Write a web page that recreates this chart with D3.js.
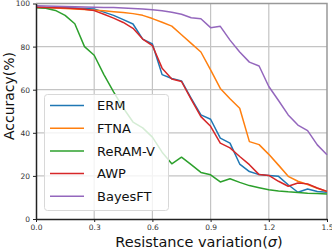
<!DOCTYPE html>
<html>
<head>
<meta charset="utf-8">
<script src="https://cdn.jsdelivr.net/npm/d3@7/dist/d3.min.js"></script>
<style>
  html, body { margin: 0; padding: 0; background: #fff; }
  svg { display: block; font-family: "DejaVu Sans", sans-serif; }
</style>
</head>
<body>
<div id="chart"></div>
<script>
var sigma = [0, 0.05, 0.1, 0.15, 0.2, 0.25, 0.3, 0.35, 0.4, 0.45, 0.5, 0.55, 0.6, 0.65, 0.7, 0.75,
	0.8, 0.85, 0.9, 0.95, 1.0, 1.05, 1.1, 1.15, 1.2, 1.25, 1.3, 1.35, 1.4, 1.45, 1.5];

var erm = [98.3, 98.2, 98.1, 98, 97.9, 97.7, 97.5, 96, 94.5, 92.5, 90.5, 83.5, 81.2, 67, 65.2, 64.1,
	56, 48.3, 46.3, 37.5, 35.2, 25.5, 22, 20.6, 20.2, 19.8, 15.9, 12.4, 13.9, 12.8, 12.4];
var ftna = [98.3, 98.1, 97.9, 97.7, 97.4, 97.2, 96.9, 96.6, 96.2, 95.8, 95.3, 94.5, 93, 91.3, 89.5, 85.5,
	81.5, 77.5, 69.2, 60.6, 55.8, 51.4, 35.9, 34.5, 30, 25, 19.8, 17.5, 16, 14.3, 12.8];
var reramV = [98, 97.8, 96.8, 94.5, 90.6, 80, 76, 67, 59, 51.5, 45, 42.3, 38, 31, 25.6, 28.7,
	25.2, 21.6, 20.5, 17.2, 18.7, 17, 15.5, 14.5, 13.6, 13, 12.6, 12.3, 12, 11.8, 11.6];
var awp = [98.3, 98.1, 98, 97.9, 97.7, 97.3, 96.7, 95, 93.2, 91.2, 88.5, 83.5, 80.5, 70, 65, 63.8,
	55.5, 47.5, 43, 35.2, 33, 29, 25.2, 20.6, 20.2, 17.5, 15.2, 16.7, 16.3, 14.4, 12.8];
var bayesFT = [98.9, 98.8, 98.7, 98.6, 98.5, 98.4, 98.3, 98.2, 98.1, 97.9, 97.7, 97.4, 97.1, 96.6, 95.9, 95,
	93.4, 92.9, 88.8, 89.4, 83, 77.5, 72.8, 71, 61.5, 55, 48.3, 43.6, 41, 34.4, 29.8];

var seriesNames = ['ERM', 'FTNA', 'ReRAM-V', 'AWP', 'BayesFT'];
var seriesValues = [erm, ftna, reramV, awp, bayesFT];
var colors = ['#1f77b4', '#ff7f0e', '#2ca02c', '#d62728', '#9467bd'];

var xTicks = [0, 0.3, 0.6, 0.9, 1.2, 1.5];
var yTicks = [0, 20, 40, 60, 80, 100];

var width = 332,
	height = 249,
	margin = {top: 3.5, right: 5, bottom: 30, left: 36};

var svg = d3.select('#chart').append('svg')
	.attr('width', width)
	.attr('height', height);

var x = d3.scaleLinear().domain([0, 1.5]).range([margin.left, width - margin.right]);
var y = d3.scaleLinear().domain([0, 100]).range([height - margin.bottom, margin.top]);

//Grid
svg.append('g').selectAll('line').data(xTicks.slice(1, -1)).enter().append('line')
	.attr('x1', d => x(d)).attr('x2', d => x(d))
	.attr('y1', y(0)).attr('y2', y(100))
	.attr('stroke', '#c4c4c4').attr('stroke-width', 1.2);
svg.append('g').selectAll('line').data(yTicks.slice(1, -1)).enter().append('line')
	.attr('x1', x(0)).attr('x2', x(1.5))
	.attr('y1', d => y(d)).attr('y2', d => y(d))
	.attr('stroke', '#c4c4c4').attr('stroke-width', 1.2);

//Top and right frame
svg.append('path')
	.attr('d', 'M' + x(0) + ',' + y(100) + 'H' + x(1.5) + 'V' + y(0))
	.attr('fill', 'none').attr('stroke', '#999').attr('stroke-width', 1.5);

//Lines
var line = d3.line().x((d, i) => x(sigma[i])).y(d => y(d));
seriesValues.forEach(function(vals, i) {
	svg.append('path')
		.datum(vals)
		.attr('d', line)
		.attr('fill', 'none')
		.attr('stroke', colors[i])
		.attr('stroke-width', 1.5)
		.attr('stroke-linejoin', 'round');
});

//Axes
var xAxis = svg.append('g')
	.attr('transform', 'translate(0,' + y(0) + ')')
	.call(d3.axisBottom(x).tickValues(xTicks).tickFormat(d3.format('.1f')).tickSize(3).tickSizeOuter(0));
var yAxis = svg.append('g')
	.attr('transform', 'translate(' + x(0) + ',0)')
	.call(d3.axisLeft(y).tickValues(yTicks).tickSize(3).tickSizeOuter(0));

[xAxis, yAxis].forEach(function(g) {
	g.select('.domain').attr('stroke', '#222').attr('stroke-width', 1.5);
	g.selectAll('.tick line').attr('stroke', '#222');
	g.selectAll('.tick text').attr('fill', '#333').style('font-size', '7.5px').style('font-family', '"DejaVu Sans", sans-serif');
});

//Legend (drawn over the lines, semi-transparent)
var legend = svg.append('g');
legend.append('rect')
	.attr('x', 44.5).attr('y', 94.5)
	.attr('width', 124).attr('height', 116)
	.attr('rx', 3)
	.attr('fill', 'rgba(255,255,255,0.8)')
	.attr('stroke', '#d8d8d8').attr('stroke-width', 1);

var items = legend.selectAll('g.item').data(seriesNames).enter().append('g')
	.attr('class', 'item')
	.attr('transform', (d, i) => 'translate(0,' + (105.5 + i * 22.7) + ')');
items.append('line')
	.attr('x1', 50).attr('x2', 84)
	.attr('stroke', (d, i) => colors[i]).attr('stroke-width', 1.5);
items.append('text')
	.attr('x', 97).attr('dy', '0.36em')
	.style('font-size', '13px')
	.attr('fill', '#111')
	.text(d => d);

//Axis labels (the original figure has them a little off the plot centre)
svg.append('text')
	.attr('transform', 'translate(13.5,96) rotate(-90)')
	.attr('text-anchor', 'middle')
	.style('font-size', '14px')
	.attr('fill', '#111')
	.text('Accuracy(%)');

var xl = svg.append('text')
	.attr('x', 199)
	.attr('y', 246.5)
	.attr('text-anchor', 'middle')
	.style('font-size', '14.5px')
	.attr('fill', '#111');
xl.append('tspan').text('Resistance variation(');
xl.append('tspan').style('font-style', 'italic').text('σ');
xl.append('tspan').text(')');
</script>
</body>
</html>
